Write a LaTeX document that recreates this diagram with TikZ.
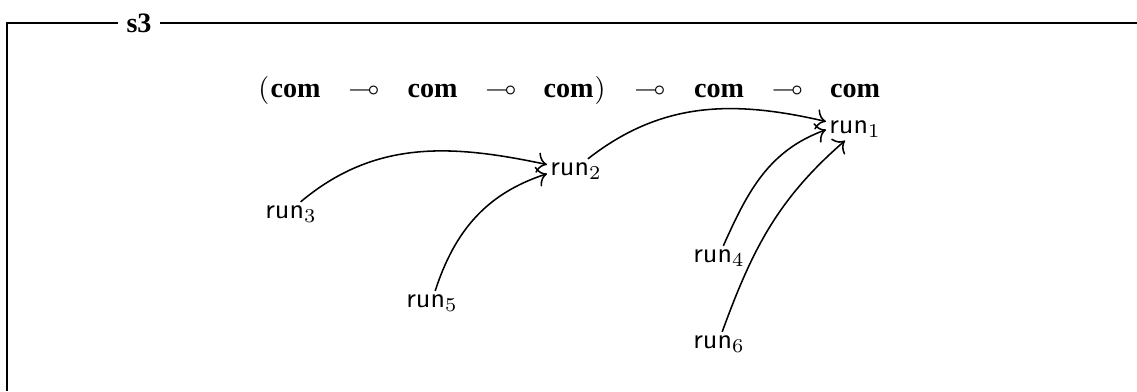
\documentclass[tikz,border=0pt]{standalone}
\usepackage{amsmath, amssymb}
\usepackage{fontspec}
\setmainfont{Liberation Serif}
\usepackage{tikz}
\usetikzlibrary{arrows.meta, positioning}
\tikzset{
  runV/.style={inner sep=1pt, font=\sffamily, anchor=base},
  comV/.style={inner sep=0pt, font=\bfseries, anchor=base},
  lolliV/.style={inner sep=0pt, anchor=base},
  edgeR/.style={draw=black, line width=0.55pt, -{To[scale=1.25]}},
  frameL/.style={draw=black, line width=0.95pt},
  titleV/.style={fill=white, inner xsep=3pt, inner ysep=1pt, font=\bfseries},
}

\begin{document}
\begin{tikzpicture}[x=0.3559pt, y=-0.3559pt]
    \useasboundingbox (0,0) rectangle (1137,391);
    %% frame
    \draw[frameL] (7,391) |- (1137,23);
    \node[titleV] (ttl) at (139,23) {s3};
    %% type
    \node[comV] (c1) at (295.5,97) {com};
    \node[comV] (c2) at (432.5,97) {com};
    \node[comV] (c3) at (568.5,97) {com};
    \node[comV] (c4) at (719,97) {com};
    \node[comV] (c5) at (855,97) {com};
    \node[anchor=base east, inner sep=0pt] (lp) at (c1.base west) {$($};
    \node[anchor=base west, inner sep=0pt] (rp) at (c3.base east) {$)$};
    \node[lolliV] (m1) at (364,97) {$\multimap$};
    \node[lolliV] (m2) at (501,97) {$\multimap$};
    \node[lolliV] (m3) at (650,97) {$\multimap$};
    \node[lolliV] (m4) at (787.5,97) {$\multimap$};
    %% runs
    \node[runV] (r1) at (855,133) {run$_1$};
    \node[runV] (r2) at (576,175) {run$_2$};
    \node[runV] (r3) at (291,218) {run$_3$};
    \node[runV] (r4) at (719,262) {run$_4$};
    \node[runV] (r5) at (432,307) {run$_5$};
    \node[runV] (r6) at (719,348) {run$_6$};
    %% arrows
    \draw[edgeR] (r3.51) to[out=40, in=168] (r2.168);
    \draw[edgeR] (r5.75) to[out=72, in=198] (r2.186);
    \draw[edgeR] (r2.45) to[out=38, in=167] (r1.166);
    \draw[edgeR] (r4.70) to[out=66, in=200] (r1.182);
    \draw[edgeR] (r6.75) to[out=70, in=221] (r1.230);
\end{tikzpicture}
\end{document}
